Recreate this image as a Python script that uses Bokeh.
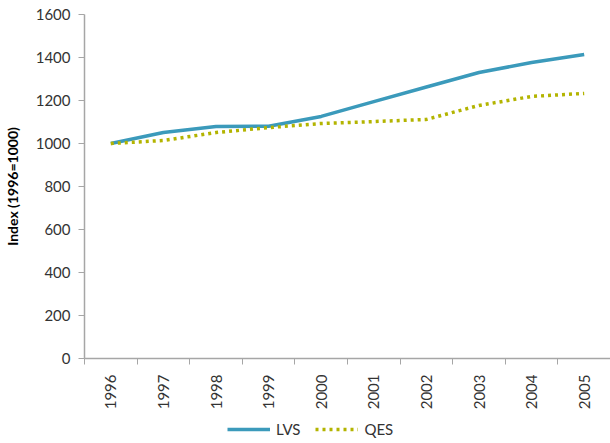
from bokeh.plotting import figure
from bokeh.models import FixedTicker, Legend, LegendItem, Range1d
from bokeh.layouts import column
from bokeh.embed import file_html
from bokeh.resources import INLINE
import math

years = ["1996", "1997", "1998", "1999", "2000", "2001", "2002", "2003", "2004", "2005"]
lvs = [1000, 1051, 1079, 1080, 1126, 1195, 1263, 1330, 1377, 1414]
qes = [1000, 1014, 1051, 1074, 1093, 1102, 1112, 1177, 1219, 1233]
y_ticks = [0, 200, 400, 600, 800, 1000, 1200, 1400, 1600]

xs = [i + 0.5 for i in range(len(years))]

FONT = "Lato"
LVS_COLOR = "#3b9abb"
QES_COLOR = "#b3b400"

p = figure(width=610, height=420, output_backend="svg", toolbar_location=None,
           x_range=Range1d(0, 10), y_range=Range1d(0, 1600))
p.min_border_left = 83
p.min_border_right = 0
p.min_border_top = 14
p.min_border_bottom = 62
p.outline_line_color = None
p.xgrid.grid_line_color = None
p.ygrid.grid_line_color = None

p.line(xs, lvs, line_color=LVS_COLOR, line_width=3.5)
p.line(xs, qes, line_color=QES_COLOR, line_width=3.5, line_dash="3 4")

p.xaxis.ticker = FixedTicker(ticks=xs, minor_ticks=list(range(0, 11)))
p.xaxis.major_label_overrides = {x: y for x, y in zip(xs, years)}
p.xaxis.major_label_orientation = math.pi / 2
p.xaxis.major_tick_out = 0
p.xaxis.major_tick_in = 0
p.xaxis.minor_tick_out = 6
p.xaxis.minor_tick_in = 0
p.xaxis.major_label_standoff = 10
p.yaxis.ticker = FixedTicker(ticks=y_ticks)
p.yaxis.major_tick_out = 6
p.yaxis.major_tick_in = 0
p.yaxis.major_label_standoff = 8

for ax in (p.xaxis, p.yaxis):
    ax.axis_line_color = "#a6a6a6"
    ax.axis_line_width = 1.5
    ax.major_tick_line_color = "#a6a6a6"
    ax.minor_tick_line_color = "#a6a6a6"
    ax.major_label_text_font = FONT
    ax.major_label_text_font_size = "15px"
    ax.major_label_text_color = "#333333"
p.yaxis.minor_tick_line_color = None

p.yaxis.axis_label = "Index (1996=1000)"
p.yaxis.axis_label_text_font = FONT
p.yaxis.axis_label_text_font_style = "bold"
p.yaxis.axis_label_text_font_size = "14px"
p.yaxis.axis_label_text_color = "#000000"
p.yaxis.axis_label_standoff = 12

# legend strip below the chart (series drawn out of its visible range)
lg = figure(width=610, height=23, output_backend="svg", toolbar_location=None,
            x_range=Range1d(0, 10), y_range=Range1d(0, 1))
lg.min_border_left = 83
lg.min_border_right = 0
lg.min_border_top = 0
lg.min_border_bottom = 0
lg.outline_line_color = None
lg.axis.visible = False
lg.grid.visible = False
lr1 = lg.line(xs, lvs, line_color=LVS_COLOR, line_width=3.5)
lr2 = lg.line(xs, qes, line_color=QES_COLOR, line_width=3.5, line_dash="3 4")

legend = Legend(items=[LegendItem(label="LVS", renderers=[lr1]),
                       LegendItem(label="QES", renderers=[lr2])],
                orientation="horizontal", location=(143, 4))
legend.label_text_font = FONT
legend.label_text_font_size = "15px"
legend.label_text_color = "#333333"
legend.border_line_color = None
legend.background_fill_alpha = 0
legend.glyph_width = 43
legend.label_standoff = 6
legend.spacing = 15
legend.padding = 2
legend.margin = 0
lg.add_layout(legend, "center")

open("out.html", "w").write(file_html(column(p, lg), INLINE))
